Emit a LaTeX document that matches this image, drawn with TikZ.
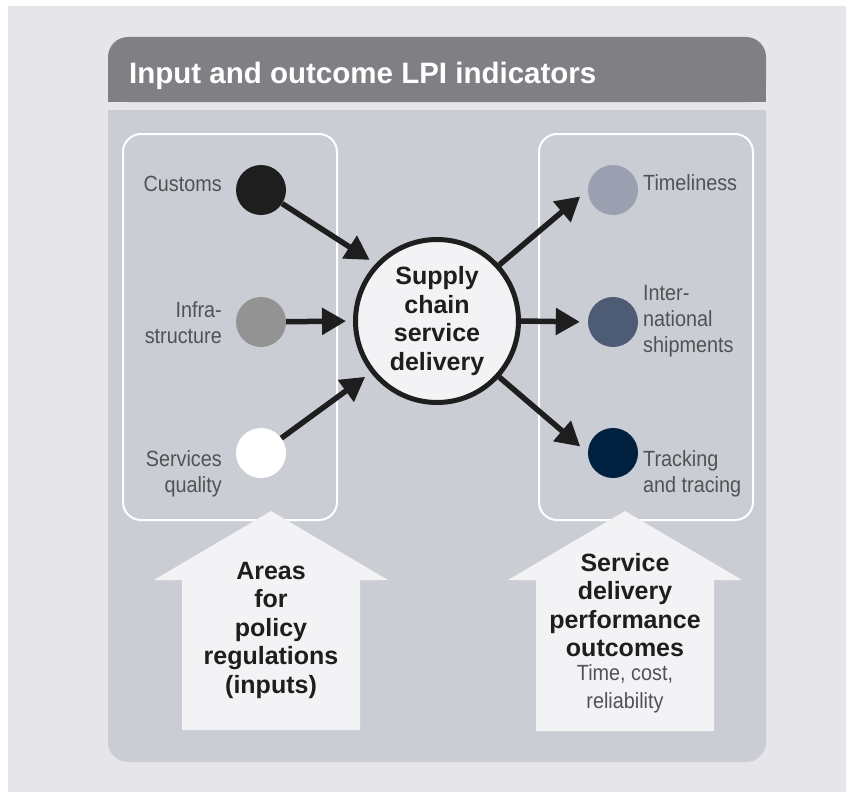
\documentclass[tikz,border=0pt]{standalone}
\usepackage{fontspec}
\setmainfont{Liberation Sans}
\newfontfamily\condfont[FakeStretch=0.9]{Liberation Sans}
\usetikzlibrary{arrows.meta}
\definecolor{bgc}{HTML}{E6E5EA}
\definecolor{headc}{HTML}{808084}
\definecolor{bodyc}{HTML}{CBCDD5}
\definecolor{paper}{HTML}{F3F2F5}
\definecolor{labc}{HTML}{525254}
\definecolor{inkc}{HTML}{1E1E1E}
\definecolor{dotA}{HTML}{1E1E1E}
\definecolor{dotB}{HTML}{939393}
\definecolor{dotD}{HTML}{9AA0AF}
\definecolor{dotE}{HTML}{4E5B75}
\definecolor{dotF}{HTML}{00203F}
\begin{document}
\begin{tikzpicture}[x=1pt,y=-1pt,
  dot/.style={circle,minimum size=50pt,inner sep=0pt},
  lab/.style={text=labc,font=\condfont\fontsize{22}{26}\selectfont,inner sep=0pt},
  flow/.style={draw=inkc,line width=5.5pt,-{Triangle[length=24pt,width=26pt]}},
  bigtext/.style={text=inkc,font=\bfseries\fontsize{25}{28.5}\selectfont,align=center,inner sep=0pt},
  smalltext/.style={text=labc,font=\condfont\fontsize{22}{28}\selectfont,align=center,inner sep=0pt},
  blockarrow/.style={fill=paper},
  groupbox/.style={draw=white,line width=2pt,rounded corners=18pt,minimum width=214pt,minimum height=386pt,inner sep=0pt}]

\useasboundingbox (0,0) rectangle (846,792);
\fill[white] (0,0) rectangle (846,792);
\fill[bgc] (8,6) rectangle (846,792);

% header and body panel
\fill[headc,rounded corners=20pt] (108,37) rectangle (766,102);
\fill[headc] (108,80) rectangle (766,102);
\fill[bodyc,rounded corners=20pt] (108,110) rectangle (766,762);
\fill[bodyc] (108,110) rectangle (766,150);

\node[anchor=base west,text=white,font=\bfseries\fontsize{29.5}{32}\selectfont,inner sep=0pt] (title) at (129,84) {Input and outcome LPI indicators};

% group boxes
\node[groupbox] (inbox) at (230,327) {};
\node[groupbox] (outbox) at (646,327) {};

% indicator dots
\node[dot,fill=dotA] (c1) at (261,190) {};
\node[dot,fill=dotB] (c2) at (261,322) {};
\node[dot,fill=white] (c3) at (261,453) {};
\node[dot,fill=dotD] (t1) at (613,190) {};
\node[dot,fill=dotE] (t2) at (613,322) {};
\node[dot,fill=dotF] (t3) at (613,453) {};

% labels
\node[lab,anchor=east] (l1) at (222,184) {Customs};
\node[lab,anchor=east,align=right] (l2) at (222,323) {Infra-\\structure};
\node[lab,anchor=east,align=right] (l3) at (222,474) {Services\\quality};
\node[lab,anchor=west] (r1) at (643,183) {Timeliness};
\node[lab,anchor=west,align=left] (r2) at (643,321) {Inter-\\national\\shipments};
\node[lab,anchor=west,align=left] (r3) at (643,474) {Tracking\\and tracing};

% hub
\node[circle,fill=paper,draw=inkc,line width=5pt,minimum size=163pt,bigtext] (hub) at (437,321) {Supply\\chain\\service\\delivery};

% connectors
\draw[flow,shorten >=7pt] (c1) -- (hub.137);
\draw[flow,shorten >=7pt] (c2) -- (hub.west);
\draw[flow,shorten >=7pt] (c3) -- (hub.218);
\draw[flow,shorten >=10pt] (hub.42) -- (t1.west);
\draw[flow,shorten >=8pt] (hub.east) -- (t2.west);
\draw[flow,shorten >=10pt] (hub.-42) -- (t3.west);

% block arrows
\fill[blockarrow] (271,511) -- (388,580) -- (360,580) -- (360,730) -- (182,730) -- (182,580) -- (154,580) -- cycle;
\fill[blockarrow] (625,511) -- (742,580) -- (714,580) -- (714,731) -- (536,731) -- (536,580) -- (508,580) -- cycle;

\node[bigtext] (inputs) at (271,630) {Areas\\for\\policy\\regulations\\(inputs)};
\node[bigtext] (outcomes) at (625,605) {Service\\delivery\\performance\\outcomes};
\node[smalltext] (measures) at (625,689) {Time, cost,\\reliability};
\end{tikzpicture}
\end{document}
